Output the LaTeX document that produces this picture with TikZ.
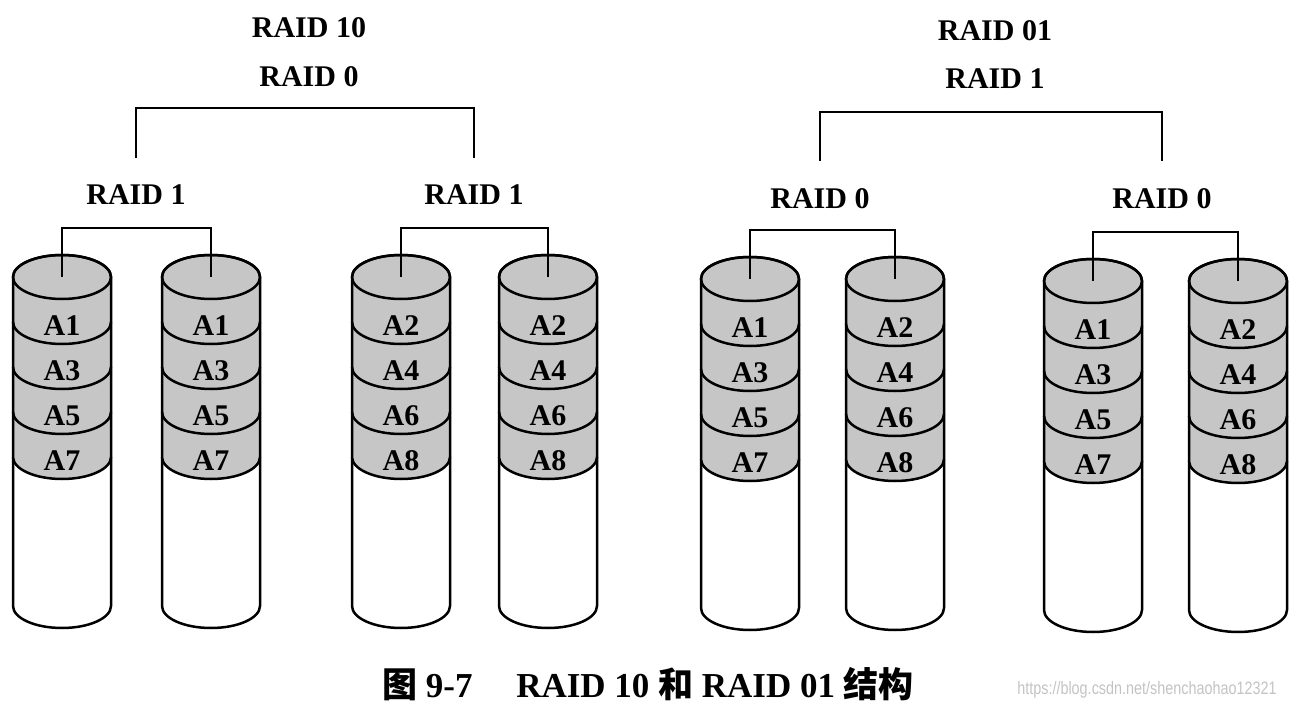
\documentclass[tikz,border=0pt]{standalone}
\usepackage{fontspec}
\setmainfont{Liberation Serif}
\newfontfamily\cjkfont{Noto Sans CJK SC}
\newfontfamily\urlfont{Liberation Sans}
\usetikzlibrary{calc}
\definecolor{diskgray}{RGB}{198,198,198}
\definecolor{markgray}{RGB}{195,195,195}

\begin{document}
\begin{tikzpicture}[x=0.5pt, y=-0.5pt,
    raidlabel/.style={font=\bfseries\fontsize{15}{17}\selectfont, inner sep=1pt},
    disklabel/.style={font=\bfseries\fontsize{15}{17}\selectfont, inner sep=0pt},
    line/.style={draw, line width=1pt},
    disk/.style={draw, line width=1.25pt}
]
\useasboundingbox (0,0) rectangle (1298,706);

% RAID 10 side
\node [raidlabel] (r10) at (309,28) {RAID 10};
\node [raidlabel] (r10top) at (309,77) {RAID 0};
\node [raidlabel] (r10a) at (136,195) {RAID 1};
\node [raidlabel] (r10b) at (474,195) {RAID 1};

% RAID 01 side
\node [raidlabel] (r01) at (995,31) {RAID 01};
\node [raidlabel] (r01top) at (995,79) {RAID 1};
\node [raidlabel] (r01a) at (820,199) {RAID 0};
\node [raidlabel] (r01b) at (1162,199) {RAID 0};

% disks
\foreach \n/\x/\y/\pa/\pb/\pc/\pd in {d1/62/277/A1/A3/A5/A7, d2/211/277/A1/A3/A5/A7,
    d3/401/277/A2/A4/A6/A8, d4/548/277/A2/A4/A6/A8, d5/750/279/A1/A3/A5/A7,
    d6/895/279/A2/A4/A6/A8, d7/1093/281/A1/A3/A5/A7, d8/1238/281/A2/A4/A6/A8}{
  \coordinate (\n) at (\x,\y);
  \path [disk] (\x-49,\y+180) -- (\x-49,\y+329) arc [start angle=180, end angle=360, x radius=24.5pt, y radius=11pt] -- (\x+49,\y+180);
  \path [disk, fill=diskgray] (\x-49,\y) -- (\x-49,\y+180) arc [start angle=180, end angle=360, x radius=24.5pt, y radius=11pt]
    -- (\x+49,\y) arc [start angle=0, end angle=180, x radius=24.5pt, y radius=11pt] -- cycle;
  \path [disk] (\n) ellipse [x radius=24.5pt, y radius=11pt];
  \foreach \k in {1,2,3}
    \path [disk] (\x-49,\y+45*\k) arc [start angle=180, end angle=360, x radius=24.5pt, y radius=11pt];
  \foreach \t [count=\k] in {\pa,\pb,\pc,\pd}
    \node [disklabel] (\n-\k) at (\x,\y+45*\k+4) {\t};
}

% mirror / stripe brackets
\path [line] (d1) -- ++(0,-49) -| (d2);
\path [line] (d3) -- ++(0,-49) -| (d4);
\path [line] (d5) -- ++(0,-49) -| (d6);
\path [line] (d7) -- ++(0,-49) -| (d8);
\path [line] ($(r10a)+(0,-37)$) |- ($(r10top)+(0,31)$) -| ($(r10b)+(0,-37)$);
\path [line] ($(r01a)+(0,-38)$) |- ($(r01top)+(0,33)$) -| ($(r01b)+(0,-38)$);

% caption
\node [font=\bfseries\fontsize{17.5}{19}\selectfont] (cap) at (648,684) {{\cjkfont 图} 9-7\quad\ RAID 10 {\cjkfont 和} RAID 01 {\cjkfont 结构}};
\node [font=\urlfont\fontsize{9}{10}\selectfont, text=markgray, xscale=0.8] (url) at (1147,690) {https://blog.csdn.net/shenchaohao12321};

\end{tikzpicture}
\end{document}
